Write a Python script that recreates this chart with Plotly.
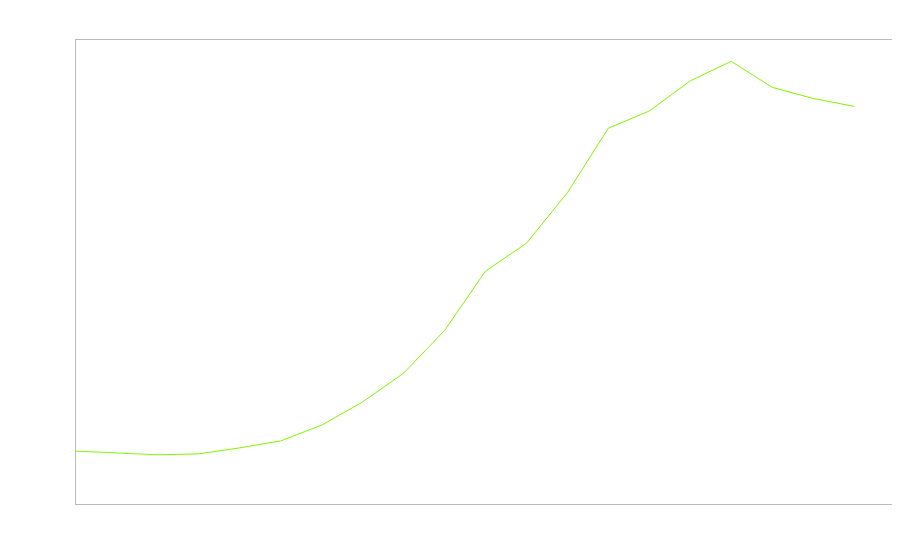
import plotly.graph_objects as go

x_values = list(range(20))
y_values = [11.4, 11.0, 10.6, 10.8, 12.1, 13.6, 17.0, 22.0, 28.2, 37.4,
            50.2, 56.2, 67.1, 81.0, 84.7, 91.2, 95.4, 89.8, 87.4, 85.7]

fig = go.Figure()
fig.add_trace(go.Scatter(x=x_values, y=y_values, mode="lines",
                         line=dict(color="#80F800", width=1), showlegend=False))

axis_style = dict(showgrid=False, zeroline=False, showticklabels=False, ticks="",
                  showline=True, linecolor="#bbbbbb", linewidth=1, mirror=True)
fig.update_layout(
    width=885, height=544,
    margin=dict(l=68, r=0, t=32, b=48),
    paper_bgcolor="white", plot_bgcolor="white",
    xaxis=dict(range=[0, 19.95], **axis_style),
    yaxis=dict(range=[0, 100], **axis_style),
)
fig.write_html("out.html")
